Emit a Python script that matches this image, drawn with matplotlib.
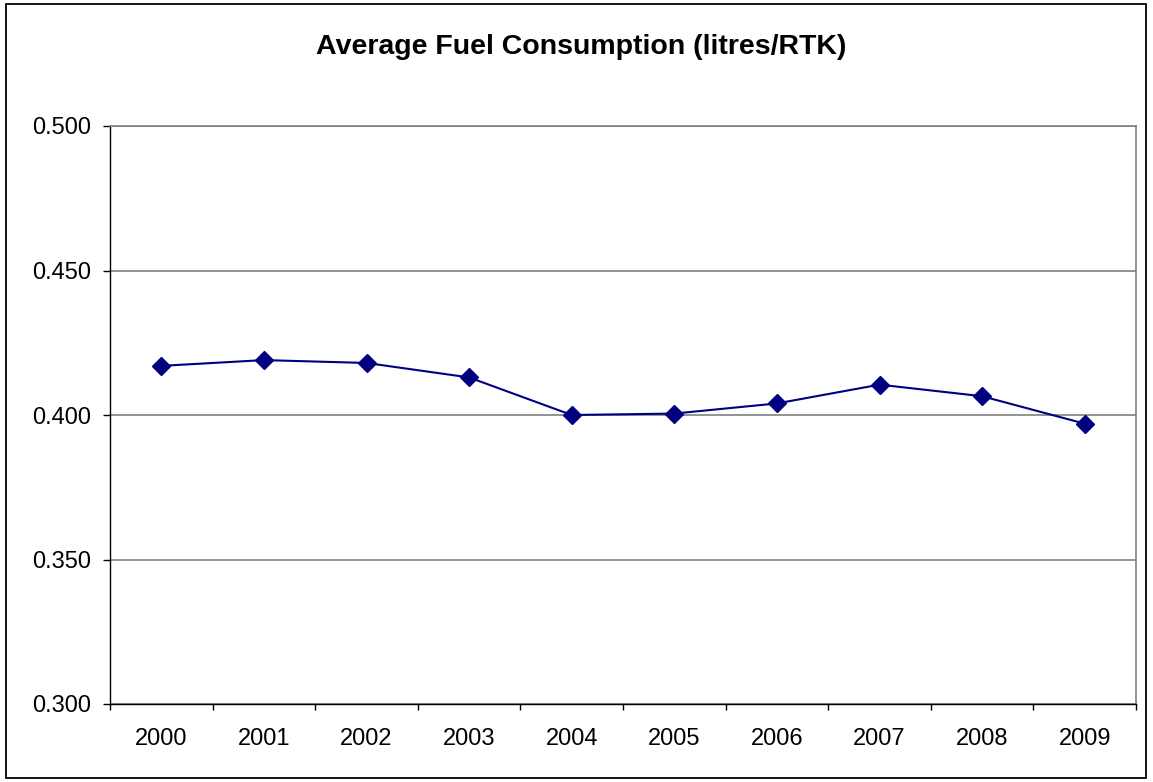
import matplotlib
matplotlib.use("Agg")
import matplotlib.pyplot as plt
from matplotlib.patches import Rectangle
from matplotlib.ticker import FixedLocator, NullFormatter

years = ["2000", "2001", "2002", "2003", "2004", "2005", "2006", "2007", "2008", "2009"]
fuel = [0.417, 0.419, 0.418, 0.413, 0.400, 0.4005, 0.404, 0.4105, 0.4065, 0.397]
yticks = [0.300, 0.350, 0.400, 0.450, 0.500]
title = "Average Fuel Consumption (litres/RTK)"

plt.rcParams['font.family'] = ['Liberation Sans', 'DejaVu Sans']

fig = plt.figure(figsize=(11.53, 7.82), dpi=100)
fig.patches.append(Rectangle((6/1153, 4/782), 1140/1153, 774/782, transform=fig.transFigure,
                             fill=False, edgecolor='black', linewidth=1.3))

ax = fig.add_axes([110/1153, 78/782, 1026/1153, 578/782])
x = list(range(len(years)))
ax.plot(x, fuel, color='#000080', linewidth=1.5, marker='D', markersize=9.5,
        markerfacecolor='#000080', markeredgecolor='#000080', zorder=3)

ax.set_xlim(-0.5, len(years) - 0.5)
ax.set_ylim(yticks[0], yticks[-1])
ax.set_yticks(yticks)
ax.set_yticklabels([f"{v:.3f}" for v in yticks], fontsize=17)
ax.set_xticks(x)
ax.set_xticklabels(years, fontsize=17)
ax.tick_params(axis='x', which='major', length=0, pad=17)
ax.xaxis.set_minor_locator(FixedLocator([i - 0.5 for i in range(len(years) + 1)]))
ax.xaxis.set_minor_formatter(NullFormatter())
ax.tick_params(axis='x', which='minor', length=4.5, width=1, direction='out', color='black')
ax.tick_params(axis='y', length=5, width=1, direction='out', color='black', pad=8.5)

ax.yaxis.grid(True, color='#808080', linewidth=1.2)
ax.set_axisbelow(True)
for s in ['top', 'right']:
    ax.spines[s].set_color('#808080')
    ax.spines[s].set_linewidth(1.2)
for s in ['left', 'bottom']:
    ax.spines[s].set_color('black')
    ax.spines[s].set_linewidth(1.0)

fig.text(581/1153, 1 - 47/782, title, ha='center', va='center', fontsize=20.5, fontweight='bold')

fig.savefig("out.png", dpi=100)
